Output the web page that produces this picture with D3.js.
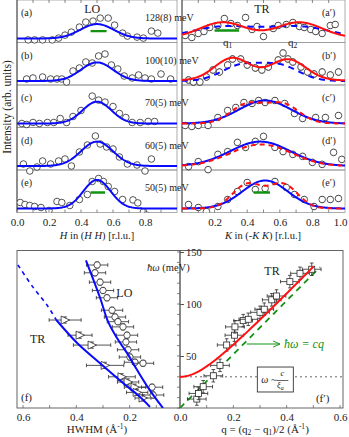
<!DOCTYPE html>
<html><head><meta charset="utf-8">
<script src="https://cdn.jsdelivr.net/npm/d3@7/dist/d3.min.js"></script>
<style>
html,body{margin:0;padding:0;background:#fff;}
svg{display:block;}
text{font-family:"Liberation Serif","Times New Roman",serif;fill:#222;}
</style></head><body>
<svg id="chart" width="349" height="437"></svg>
<script>
// ================= DATA =================
const energyLabels = ["128(8) meV","100(10) meV","70(5) meV","60(5) meV","50(5) meV"];
const loLabels = ["(a)","(b)","(c)","(d)","(e)"];
const trLabels = ["(a\u2032)","(b\u2032)","(c\u2032)","(d\u2032)","(e\u2032)"];
const topTicksL = [0,0.2,0.4,0.6,0.8];
const topTicksR = [0.2,0.4,0.6,0.8,1.0];

// LO scans (H in (H H)), intensity arb. units
const loH_a = [0.07,0.11,0.16,0.22,0.26,0.30,0.34,0.39,0.43,0.475,0.52,0.57,0.61,0.66,0.69,0.75,0.79,0.84,0.88];
const loI_a = [-0.07,-0.07,-0.07,-0.07,0.02,0.17,0.32,0.57,0.82,0.87,1.02,1.02,0.67,0.27,0.12,0.07,0.02,0.37,0.27];
const loH_b = [0.06,0.10,0.16,0.21,0.25,0.28,0.31,0.35,0.39,0.43,0.47,0.51,0.55,0.59,0.63,0.67,0.72,0.76,0.80,0.84,0.90,0.96];
const loI_b = [0.1,0.15,0.2,0.1,0.1,0.1,-0.05,0.5,0.65,0.95,0.9,1.25,1.35,0.8,0.6,0.25,0.15,0.3,0.15,0.1,0.35,0.1];
const loH_c = [0.03,0.06,0.10,0.14,0.19,0.23,0.27,0.31,0.35,0.40,0.47,0.51,0.55,0.60,0.64,0.68,0.72,0.77,0.82,0.86];
const loI_c = [0.0,-0.05,0.05,0.0,0.05,0.05,0.25,0.05,0.35,0.65,1.37,1.17,1.07,0.85,0.5,0.3,0.05,0.05,0.1,0.1];
const loH_d = [0.04,0.08,0.125,0.16,0.21,0.26,0.30,0.34,0.39,0.44,0.49,0.52,0.56,0.60,0.64,0.69,0.75,0.80,0.84];
const loI_d = [0.1,-0.25,-0.05,0.25,0.1,0.25,0.35,0.0,0.7,1.05,1.5,1.1,0.95,0.85,0.45,0.1,0.05,-0.25,0.35];
const loH_e = [0.02,0.05,0.08,0.11,0.15,0.20,0.25,0.28,0.33,0.39,0.44,0.47,0.51,0.54,0.57,0.61,0.66,0.725,0.755,0.79,0.81];
const loI_e = [0.3,0.2,0.15,0.1,0.05,-0.1,0.35,0.3,0.15,0.45,0.7,1.35,1.5,1.35,1.1,0.85,0.45,0.43,0.28,-0.17,-0.33];
// LO Gaussian fits
const loFitCen = [0.5,0.5,0.5,0.5,0.5];
const loFitAmp = [0.72,0.93,1.09,1.22,1.43];
const loFitSig = [0.105,0.10,0.09,0.10,0.085];
// green resolution bars [from, to, level]
const greenBarLO_a = [0.46,0.56,0.37];
const greenBarLO_e = [0.46,0.55,0.80];

// TR scans (K in (-K K))
const trK_a = [0.02,0.06,0.10,0.135,0.17,0.22,0.26,0.30,0.34,0.39,0.43,0.46,0.50,0.56,0.59,0.64,0.68,0.72,0.75,0.79,0.82,0.86,0.91,0.94];
const trI_a = [0.15,0.05,0.25,0.35,0.55,0.65,1.0,0.75,0.65,1.05,0.45,0.6,0.1,0.5,0.65,0.7,0.8,0.6,0.55,0.45,0.35,0.25,0.65,0.7];
const trK_b = [0.04,0.07,0.11,0.15,0.19,0.23,0.28,0.31,0.36,0.40,0.45,0.49,0.53,0.59,0.62,0.65,0.68,0.73,0.77,0.81,0.86,0.91,0.96];
const trI_b = [0.05,-0.05,-0.05,0.2,0.55,0.45,0.8,1.1,1.1,0.8,0.65,0.55,0.7,1.05,1.4,1.1,0.95,0.7,0.45,0.35,0.45,0.3,0.45];
const trK_c = [0.02,0.06,0.10,0.16,0.22,0.28,0.33,0.38,0.43,0.47,0.51,0.57,0.63,0.69,0.74,0.82,0.88,0.96];
const trI_c = [-0.1,-0.15,-0.1,-0.1,0.3,0.65,0.8,1.05,1.0,1.15,1.05,1.15,1.0,0.5,0.25,0.3,0.3,0.4];
const trK_d = [0.04,0.10,0.16,0.22,0.28,0.34,0.39,0.45,0.50,0.57,0.62,0.68,0.74,0.80,0.86,0.93,0.98];
const trI_d = [-0.03,0.22,-0.18,0.58,0.72,1.18,0.93,1.23,1.48,0.93,0.72,0.58,0.48,0.18,0.08,0.68,0.33];
const trK_e = [0.04,0.10,0.15,0.22,0.28,0.34,0.40,0.45,0.51,0.57,0.64,0.69,0.75,0.81,0.86,0.91,0.96];
const trI_e = [0.2,0.05,-0.15,0.1,0.45,0.85,1.3,0.95,1.0,1.35,1.05,0.7,0.45,0.1,0.45,0.45,0.5];
const trErr = 0.15;
// TR fits: two-peak (q1,q2) red fits, broad blue fits
const redCen_a = [0.25,0.72], redAmp_a = [0.78,0.78], redSig_a = 0.14;
const blueDashCen_a = [0.25,0.72], blueDashAmp_a = [0.58,0.58], blueDashSig_a = 0.20;
const redCen_b = [0.31,0.65], redAmp_b = [1.12,1.05], redSig_b = 0.11;
const blueDashCen_b = [0.36,0.60], blueDashAmp_b = [0.75,0.75], blueDashSig_b = 0.12;
const blueCen_cde = [0.51,0.48,0.51], blueAmp_cde = [1.15,1.22,1.40], blueSig_cde = [0.16,0.185,0.14];
const redDashCen_c = [0.40,0.62], redDashAmp_c = [0.95,0.95], redDashSig_c = 0.10;
const redDashCen_d = [0.40,0.57], redDashAmp_d = [0.62,0.62], redDashSig_d = 0.16;
const redDashCen_e = [0.40,0.62], redDashAmp_e = [1.20,1.20], redDashSig_e = 0.09;
const greenBarTR_a = [0.20,0.35,0.40];
const greenBarTR_e = [0.44,0.54,0.80];

// (f) HWHM vs energy
const loF_hw = [0.322,0.33,0.311,0.30,0.285,0.266,0.255,0.244,0.225,0.21,0.214,0.206,0.199,0.18,0.15,0.116,0.112];
const loF_E  = [137.5,130,121,113,106,94,87.5,83,78,70,63.5,56,49,44,43,20,12.5];
const loF_hwErr = 0.04, loF_EErr = 3;
const trF_hw = [0.442,0.386,0.341,0.292,0.229,0.206,0.18,0.172,0.15];
const trF_E  = [84.6,70,60.5,41,30,25,20,15,9.6];
const trF_hwErr = [0.06,0.045,0.07,0.07,0.05,0.04,0.04,0.04,0.03];
const trF_EErr = 3;
const loCurveHW = [0.364,0.311,0.281,0.247,0.21,0.172,0.124,0.075];
const loCurveE  = [142,106,83,67,53,36.5,17,0];
const trCurveHW = [0.475,0.397,0.311,0.225,0.161,0.124];
const trCurveE  = [84.6,62.5,43,24,10.6,1];
const trDashHW = [0.619,0.562,0.51,0.475];
const trDashE  = [137.5,116,99,84.6];
const fTicks = [0.6,0.4,0.2];

// (f') dispersion
const sqQ = [0.063,0.069,0.087,0.125,0.15,0.175,0.204,0.206,0.237,0.256,0.30,0.316,0.344,0.362,0.412,0.45,0.494];
const sqE = [8.6,14,20.5,31,41,60.6,70,78,84,85.3,92,95,104,107.7,121.5,129.5,133.4];
const sqQErr = 0.035, sqEErr = 6;
const gapE0 = 30;           // meV, omega ~ c/xi_a
const velC = 265;           // meV*A, red fit
const velCgreen = 258;      // meV*A, green dashed
const fpTicksX = [0,0.2,0.4,0.6];
const fpTicksY = [50,100,150];

// ================= DRAW =================
const svg = d3.select("#chart");
const BLUE="#0a0aff", RED="#ff1010", GREEN="#119311", PT="#2a2a2a";
const pH = 42.5, nP = 5, topBottom = pH*nP;
const xL = d3.scaleLinear().domain([0,1]).range([17,177]);
const xR = d3.scaleLinear().domain([0,1]).range([182,345]);
const yPanel = i => d3.scaleLinear().domain([-0.2,(pH-4)/20]).range([(i+1)*pH, i*pH]);
const gauss = (x, cen, amp, sig) => cen.reduce((s,c,j)=>s+amp[j]*Math.exp(-(x-c)*(x-c)/(2*(Array.isArray(sig)?sig[j]:sig)**2)),0);
const grid = d3.range(0,1.0001,0.005);

const defs = svg.append("defs");
defs.append("clipPath").attr("id","clipL").append("rect").attr("x",17).attr("y",0).attr("width",160).attr("height",topBottom);
defs.append("clipPath").attr("id","clipR").append("rect").attr("x",182).attr("y",0).attr("width",163).attr("height",topBottom);
defs.append("marker").attr("id","arr").attr("viewBox","0 0 10 10").attr("refX",9).attr("refY",5)
  .attr("markerWidth",7).attr("markerHeight",7).attr("orient","auto")
  .append("path").attr("d","M0,1 L9,5 L0,9").attr("fill","none").attr("stroke",GREEN).attr("stroke-width",1.2);

// panel frames
for (let i=0;i<nP;i++){
  svg.append("rect").attr("x",17).attr("y",i*pH).attr("width",160).attr("height",pH)
    .attr("fill","none").attr("stroke","#9a9a9a").attr("stroke-width",0.8);
  svg.append("rect").attr("x",182).attr("y",i*pH).attr("width",163).attr("height",pH)
    .attr("fill","none").attr("stroke","#9a9a9a").attr("stroke-width",0.8);
}
svg.append("line").attr("x1",17).attr("x2",17).attr("y1",0).attr("y2",topBottom).attr("stroke","#444").attr("stroke-width",1);
svg.append("line").attr("x1",182).attr("x2",182).attr("y1",0).attr("y2",topBottom).attr("stroke","#444").attr("stroke-width",1);

const gL = svg.append("g").attr("clip-path","url(#clipL)");
const gR = svg.append("g").attr("clip-path","url(#clipR)");

const loH = [loH_a,loH_b,loH_c,loH_d,loH_e];
const loI = [loI_a,loI_b,loI_c,loI_d,loI_e];
const trK = [trK_a,trK_b,trK_c,trK_d,trK_e];
const trI = [trI_a,trI_b,trI_c,trI_d,trI_e];

function drawCurve(g, xs, ys, fn, color, dash){
  const line = d3.line().x(d=>xs(d)).y(d=>ys(fn(d)));
  g.append("path").attr("d",line(grid)).attr("fill","none").attr("stroke",color)
   .attr("stroke-width",2).attr("stroke-dasharray",dash||null);
}
function drawCircles(g, xs, ys, X, Y, err){
  X.forEach((x,j)=>{
    const cx=xs(x), cy=ys(Y[j]);
    if (err){
      const e1=ys(Y[j]+err), e2=ys(Y[j]-err);
      g.append("line").attr("x1",cx).attr("x2",cx).attr("y1",e1).attr("y2",e2).attr("stroke",PT).attr("stroke-width",0.8);
      g.append("line").attr("x1",cx-1.5).attr("x2",cx+1.5).attr("y1",e1).attr("y2",e1).attr("stroke",PT).attr("stroke-width",0.8);
      g.append("line").attr("x1",cx-1.5).attr("x2",cx+1.5).attr("y1",e2).attr("y2",e2).attr("stroke",PT).attr("stroke-width",0.8);
    }
    g.append("circle").attr("cx",cx).attr("cy",cy).attr("r",3.3).attr("fill","#fff").attr("stroke",PT).attr("stroke-width",0.8);
  });
}
function greenBar(g, xs, ys, b){
  g.append("line").attr("x1",xs(b[0])).attr("x2",xs(b[1])).attr("y1",ys(b[2])).attr("y2",ys(b[2]))
   .attr("stroke",GREEN).attr("stroke-width",2.4);
}

for (let i=0;i<nP;i++){
  const y = yPanel(i);
  drawCircles(gL, xL, y, loH[i], loI[i], 0);
  drawCurve(gL, xL, y, x=>gauss(x,[loFitCen[i]],[loFitAmp[i]],loFitSig[i]), BLUE);
  drawCircles(gR, xR, y, trK[i], trI[i], trErr);
  if (i===0){
    drawCurve(gR,xR,y,x=>gauss(x,blueDashCen_a,blueDashAmp_a,blueDashSig_a),BLUE,"6,5");
    drawCurve(gR,xR,y,x=>0.03+gauss(x,redCen_a,redAmp_a,redSig_a),RED);
  } else if (i===1){
    drawCurve(gR,xR,y,x=>gauss(x,blueDashCen_b,blueDashAmp_b,blueDashSig_b),BLUE,"6,5");
    drawCurve(gR,xR,y,x=>0.03+gauss(x,redCen_b,redAmp_b,redSig_b),RED);
  } else {
    const k=i-2;
    drawCurve(gR,xR,y,x=>gauss(x,[blueCen_cde[k]],[blueAmp_cde[k]],blueSig_cde[k]),BLUE);
    const rc=[redDashCen_c,redDashCen_d,redDashCen_e][k], ra=[redDashAmp_c,redDashAmp_d,redDashAmp_e][k], rs=[redDashSig_c,redDashSig_d,redDashSig_e][k];
    drawCurve(gR,xR,y,x=>gauss(x,rc,ra,rs),RED,"5,4");
  }
  svg.append("text").attr("x",21).attr("y",i*pH+16).attr("font-size",10).text(loLabels[i]);
  svg.append("text").attr("x",322).attr("y",i*pH+16).attr("font-size",10).text(trLabels[i]);
  svg.append("text").attr("x",145).attr("y",i*pH+21).attr("font-size",10).text(energyLabels[i]);
}
greenBar(gL,xL,yPanel(0),greenBarLO_a);
greenBar(gL,xL,yPanel(4),greenBarLO_e);
greenBar(gR,xR,yPanel(0),greenBarTR_a);
greenBar(gR,xR,yPanel(4),greenBarTR_e);

svg.append("text").attr("x",xL(0.47)).attr("y",13).attr("text-anchor","middle").attr("font-size",12).text("LO");
svg.append("text").attr("x",xR(0.49)).attr("y",13).attr("text-anchor","middle").attr("font-size",12).text("TR");
const q1 = svg.append("text").attr("x",223).attr("y",46).attr("font-size",11);
q1.append("tspan").text("q"); q1.append("tspan").attr("font-size",7.5).attr("dy",2).text("1");
const q2 = svg.append("text").attr("x",288).attr("y",46).attr("font-size",11);
q2.append("tspan").text("q"); q2.append("tspan").attr("font-size",7.5).attr("dy",2).text("2");

function minorTicks(xs, from, to, y0, dir){
  d3.range(from,to+1e-9,0.1).forEach(v=>{
    svg.append("line").attr("x1",xs(v)).attr("x2",xs(v)).attr("y1",y0).attr("y2",y0+dir*3).attr("stroke","#555").attr("stroke-width",0.7);
  });
}
minorTicks(xL,0.1,0.9,topBottom,-1); minorTicks(xR,0.1,0.9,topBottom,-1);
minorTicks(xL,0.1,0.9,0,1); minorTicks(xR,0.1,0.9,0,1);
const axL = svg.append("g").attr("transform",`translate(0,${topBottom})`)
  .call(d3.axisBottom(xL).tickValues(topTicksL).tickFormat(d3.format(".1f")).tickSize(0).tickPadding(6));
const axR = svg.append("g").attr("transform",`translate(0,${topBottom})`)
  .call(d3.axisBottom(xR).tickValues(topTicksR).tickFormat(d3.format(".1f")).tickSize(0).tickPadding(6));
[axL,axR].forEach(a=>{a.select(".domain").remove(); a.selectAll("text").attr("font-size",11).attr("font-family","Liberation Serif").attr("fill","#222");});
axR.selectAll("text").filter(d=>d===1.0).attr("text-anchor","end").attr("dx",2);

const tH = svg.append("text").attr("x",97).attr("y",239).attr("text-anchor","middle").attr("font-size",10.5);
tH.append("tspan").attr("font-style","italic").text("H");
tH.append("tspan").text(" in (");
tH.append("tspan").attr("font-style","italic").text("H H");
tH.append("tspan").text(") [r.l.u.]");
const tK = svg.append("text").attr("x",263).attr("y",239).attr("text-anchor","middle").attr("font-size",10.5);
tK.append("tspan").attr("font-style","italic").text("K");
tK.append("tspan").text(" in (-");
tK.append("tspan").attr("font-style","italic").text("K K");
tK.append("tspan").text(") [r.l.u.]");
svg.append("text").attr("transform","translate(11,107) rotate(-90)").attr("text-anchor","middle").attr("font-size",11.5).text("Intensity (arb. units)");

// ---------- (f) ----------
const fTop = 250.5, fBot = 408;
const fx = d3.scaleLinear().domain([0.6,0]).range([23,183]);
const fy = d3.scaleLinear().domain([0,150]).range([408,252]);
const gx = d3.scaleLinear().domain([0,0.6]).range([180,340]);
defs.append("clipPath").attr("id","clipF").append("rect").attr("x",17).attr("y",fTop).attr("width",163).attr("height",fBot-fTop);
defs.append("clipPath").attr("id","clipFp").append("rect").attr("x",180).attr("y",fTop).attr("width",163).attr("height",fBot-fTop);
svg.append("rect").attr("x",17).attr("y",fTop).attr("width",163).attr("height",fBot-fTop).attr("fill","none").attr("stroke","#555").attr("stroke-width",0.9);
svg.append("rect").attr("x",180).attr("y",fTop).attr("width",163).attr("height",fBot-fTop).attr("fill","none").attr("stroke","#555").attr("stroke-width",0.9);

const gF = svg.append("g").attr("clip-path","url(#clipF)");
const lineF = d3.line().curve(d3.curveCatmullRom);
gF.append("path").attr("d",lineF(trDashHW.map((h,j)=>[fx(h),fy(trDashE[j])]))).attr("fill","none").attr("stroke",BLUE).attr("stroke-width",1.6).attr("stroke-dasharray","4,4");

function errH(g, cx, cy, x1, x2, y1, y2){
  const s=PT;
  g.append("line").attr("x1",x1).attr("x2",x2).attr("y1",cy).attr("y2",cy).attr("stroke",s).attr("stroke-width",0.8);
  g.append("line").attr("x1",x1).attr("x2",x1).attr("y1",cy-1.8).attr("y2",cy+1.8).attr("stroke",s).attr("stroke-width",0.8);
  g.append("line").attr("x1",x2).attr("x2",x2).attr("y1",cy-1.8).attr("y2",cy+1.8).attr("stroke",s).attr("stroke-width",0.8);
  g.append("line").attr("x1",cx).attr("x2",cx).attr("y1",y1).attr("y2",y2).attr("stroke",s).attr("stroke-width",0.8);
  g.append("line").attr("x1",cx-1.8).attr("x2",cx+1.8).attr("y1",y1).attr("y2",y1).attr("stroke",s).attr("stroke-width",0.8);
  g.append("line").attr("x1",cx-1.8).attr("x2",cx+1.8).attr("y1",y2).attr("y2",y2).attr("stroke",s).attr("stroke-width",0.8);
}
trF_hw.forEach((h,j)=>{
  const cx=fx(h), cy=fy(trF_E[j]);
  errH(gF,cx,cy,fx(h+trF_hwErr[j]),fx(h-trF_hwErr[j]),fy(trF_E[j]+trF_EErr),fy(trF_E[j]-trF_EErr));
  gF.append("path").attr("d",`M${cx-4},${cy-4} L${cx+4.5},${cy} L${cx-4},${cy+4} Z`).attr("fill","#fff").attr("stroke",PT).attr("stroke-width",0.8);
});
loF_hw.forEach((h,j)=>{
  const cx=fx(h), cy=fy(loF_E[j]);
  errH(gF,cx,cy,fx(h+loF_hwErr),fx(h-loF_hwErr),fy(loF_E[j]+loF_EErr),fy(loF_E[j]-loF_EErr));
  gF.append("circle").attr("cx",cx).attr("cy",cy).attr("r",3.2).attr("fill","#fff").attr("stroke",PT).attr("stroke-width",0.8);
});
gF.append("path").attr("d",lineF(loCurveHW.map((h,j)=>[fx(h),fy(loCurveE[j])]))).attr("fill","none").attr("stroke",BLUE).attr("stroke-width",2);
gF.append("path").attr("d",lineF(trCurveHW.map((h,j)=>[fx(h),fy(trCurveE[j])]))).attr("fill","none").attr("stroke",BLUE).attr("stroke-width",2);

d3.range(0.1,0.61,0.1).forEach(v=>{
  svg.append("line").attr("x1",fx(v)).attr("x2",fx(v)).attr("y1",fBot).attr("y2",fBot-3).attr("stroke","#555").attr("stroke-width",0.7);
});
const axF = svg.append("g").attr("transform",`translate(0,${fBot})`)
  .call(d3.axisBottom(fx).tickValues(fTicks).tickFormat(d3.format(".1f")).tickSize(0).tickPadding(5));
axF.select(".domain").remove();
axF.selectAll("text").attr("font-size",11).attr("font-family","Liberation Serif").attr("fill","#222");
svg.append("text").attr("x",fx(0.22)).attr("y",297).attr("text-anchor","middle").attr("font-size",12).text("LO");
svg.append("text").attr("x",fx(0.545)).attr("y",343).attr("text-anchor","middle").attr("font-size",12).text("TR");
svg.append("text").attr("x",21).attr("y",401).attr("font-size",11).text("(f)");
const tW = svg.append("text").attr("x",97).attr("y",433).attr("text-anchor","middle").attr("font-size",11);
tW.append("tspan").text("HWHM (\u00c5");
tW.append("tspan").attr("font-size",7.5).attr("dy",-4).text("-1");
tW.append("tspan").attr("dy",4).text(")");

// ---------- (f') ----------
const gP = svg.append("g").attr("clip-path","url(#clipFp)");
gP.append("line").attr("x1",180).attr("x2",343).attr("y1",fy(gapE0)).attr("y2",fy(gapE0)).attr("stroke","#666").attr("stroke-width",1).attr("stroke-dasharray","2,3");
const qGrid = d3.range(0,0.6,0.005);
gP.append("path").attr("d",d3.line().x(q=>gx(q)).y(q=>fy(velCgreen*q))(qGrid.filter(q=>velCgreen*q<=136)))
  .attr("fill","none").attr("stroke",GREEN).attr("stroke-width",1.8).attr("stroke-dasharray","6,5");
sqQ.forEach((q,j)=>{
  const cx=gx(q), cy=fy(sqE[j]);
  errH(gP,cx,cy,gx(q-sqQErr),gx(q+sqQErr),fy(sqE[j]+sqEErr),fy(sqE[j]-sqEErr));
  gP.append("rect").attr("x",cx-3).attr("y",cy-3).attr("width",6).attr("height",6).attr("fill","#fff").attr("stroke",PT).attr("stroke-width",0.8);
});
gP.append("path").attr("d",d3.line().x(q=>gx(q)).y(q=>fy(Math.sqrt(gapE0*gapE0+(velC*q)**2)))(qGrid.filter(q=>q<=0.5)))
  .attr("fill","none").attr("stroke",RED).attr("stroke-width",2);

d3.range(0,151,10).forEach(v=>{
  svg.append("line").attr("x1",177).attr("x2",180).attr("y1",fy(v)).attr("y2",fy(v)).attr("stroke","#555").attr("stroke-width",0.7);
});
const axY = svg.append("g").attr("transform","translate(180,0)")
  .call(d3.axisRight(fy).tickValues(fpTicksY).tickSize(4).tickPadding(2));
axY.select(".domain").remove();
axY.selectAll("line").attr("stroke","#555");
axY.selectAll("text").attr("font-size",10.5).attr("font-family","Liberation Serif").attr("fill","#222");
d3.range(0.1,0.61,0.1).forEach(v=>{
  svg.append("line").attr("x1",gx(v)).attr("x2",gx(v)).attr("y1",fBot).attr("y2",fBot-3).attr("stroke","#555").attr("stroke-width",0.7);
});
const axX = svg.append("g").attr("transform",`translate(0,${fBot})`)
  .call(d3.axisBottom(gx).tickValues(fpTicksX).tickFormat(d3.format(".1f")).tickSize(0).tickPadding(5));
axX.select(".domain").remove();
axX.selectAll("text").attr("font-size",11).attr("font-family","Liberation Serif").attr("fill","#222");

const tE = svg.append("text").attr("x",147).attr("y",271).attr("font-size",10.5);
tE.append("tspan").attr("font-style","italic").text("\u0127\u03c9");
tE.append("tspan").text(" (meV)");
svg.append("text").attr("x",gx(0.345)).attr("y",fy(128)).attr("text-anchor","middle").attr("font-size",12).text("TR");
svg.append("text").attr("x",gx(0.535)).attr("y",fy(6)).attr("text-anchor","middle").attr("font-size",11).text("(f\u2032)");
svg.append("line").attr("x1",gx(0.25)).attr("x2",gx(0.375)).attr("y1",fy(61.5)).attr("y2",fy(61.5))
  .attr("stroke",GREEN).attr("stroke-width",1.1).attr("marker-end","url(#arr)");
const tC = svg.append("text").attr("x",gx(0.39)).attr("y",fy(61.5)+4).attr("font-size",12).attr("font-style","italic");
tC.append("tspan").attr("fill",GREEN).text("\u0127\u03c9 = cq");
const bx0=gx(0.29), bx1=gx(0.425), by0=fy(39.4), by1=fy(15.4);
svg.append("rect").attr("x",bx0).attr("y",by0).attr("width",bx1-bx0).attr("height",by1-by0).attr("fill","#fff").attr("stroke","#333").attr("stroke-width",0.9);
svg.append("text").attr("x",bx0+4).attr("y",(by0+by1)/2+3.5).attr("font-size",10).attr("font-style","italic").text("\u03c9 ~");
svg.append("text").attr("x",bx0+25).attr("y",by0+9).attr("text-anchor","middle").attr("font-size",8.5).attr("font-style","italic").text("c");
svg.append("line").attr("x1",bx0+19).attr("x2",bx0+31).attr("y1",(by0+by1)/2+1).attr("y2",(by0+by1)/2+1).attr("stroke","#222").attr("stroke-width",0.7);
const xi = svg.append("text").attr("x",bx0+23).attr("y",by1-4).attr("text-anchor","middle").attr("font-size",8.5).attr("font-style","italic");
xi.append("tspan").text("\u03be"); xi.append("tspan").attr("font-size",6).attr("dy",2).text("a");

const tQ = svg.append("text").attr("x",265).attr("y",433).attr("text-anchor","middle").attr("font-size",11);
tQ.append("tspan").text("q = (q");
tQ.append("tspan").attr("font-size",7.5).attr("dy",2).text("2");
tQ.append("tspan").attr("dy",-2).text(" \u2212 q");
tQ.append("tspan").attr("font-size",7.5).attr("dy",2).text("1");
tQ.append("tspan").attr("dy",-2).text(")/2 (\u00c5");
tQ.append("tspan").attr("font-size",7.5).attr("dy",-4).text("-1");
tQ.append("tspan").attr("dy",4).text(")");
</script>
</body></html>
